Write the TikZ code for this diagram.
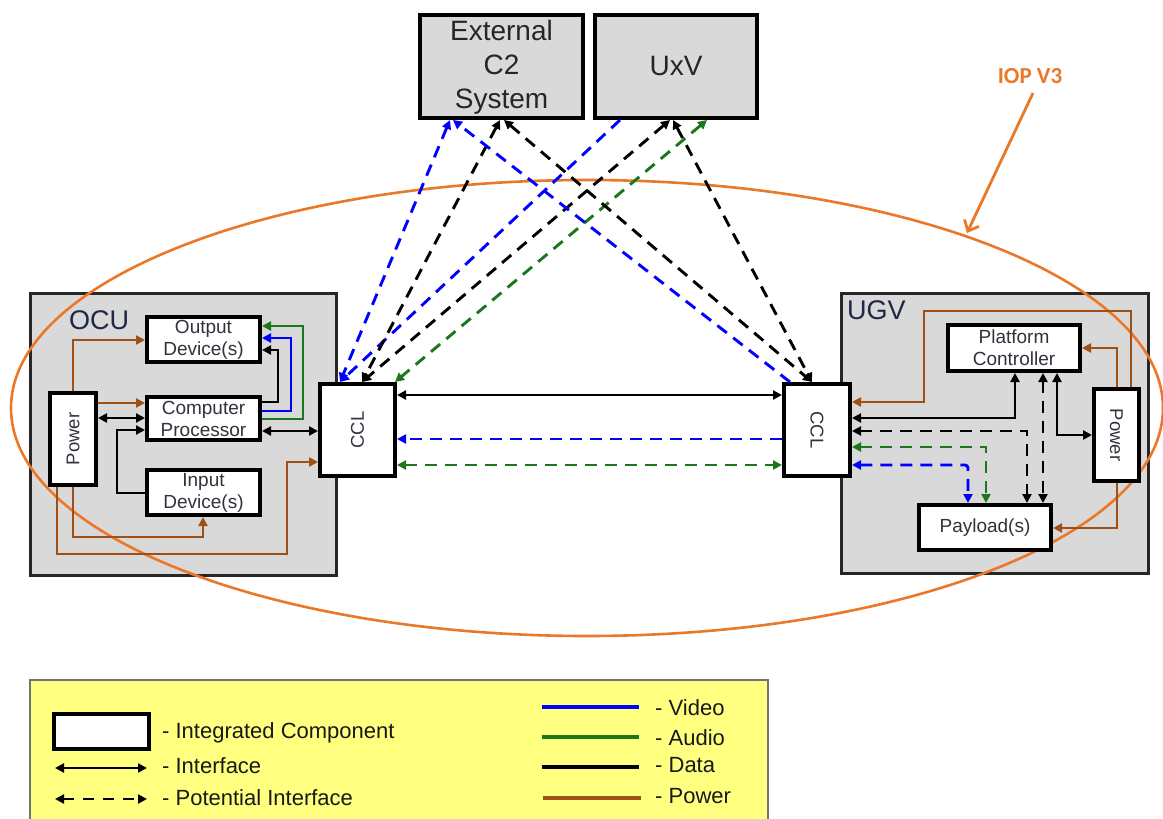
\documentclass[tikz,border=0pt]{standalone}
\usepackage{fontspec}
\setmainfont{Liberation Sans}
\newfontfamily\calib{Carlito}
\usetikzlibrary{arrows.meta}
\definecolor{vid}{RGB}{0,0,255}
\definecolor{aud}{RGB}{28,118,28}
\definecolor{pwrc}{RGB}{158,80,22}
\definecolor{iopc}{RGB}{235,120,40}
\definecolor{boxgray}{RGB}{217,217,217}
\definecolor{legy}{RGB}{255,255,128}
\definecolor{txt}{RGB}{50,50,62}
\definecolor{navy}{RGB}{30,40,70}
\begin{document}
\begin{tikzpicture}[x=1pt,y=-1pt,
  >={Triangle[length=9pt,width=9pt]},
  comp/.style={draw=black, line width=3.8pt, fill=white, text=txt, inner sep=0pt, align=center, font=\fontsize{19}{22}\selectfont},
  rcomp/.style={comp, font=\fontsize{18.5}{22}\selectfont},
  top/.style={draw=black, line width=3.8pt, fill=boxgray, text=black!85, inner sep=0pt, align=center, font=\fontsize{28}{34}\selectfont},
  grp/.style={draw=black!85, line width=3.2pt, fill=boxgray, inner sep=0pt},
  grplabel/.style={anchor=base west, inner sep=0pt, text=navy, font=\fontsize{27}{30}\selectfont},
  ln/.style={line width=2.9pt},
  dsh/.style={ln, dash pattern=on 12pt off 8pt},
  dat/.style={ln, black},
  vidl/.style={ln, vid},
  audl/.style={ln, aud},
  pw/.style={ln, pwrc},
  legtext/.style={anchor=base west, inner sep=0pt, text=black!90, font=\fontsize{22}{26}\selectfont},
  legline/.style={line width=4.5pt},
]
\useasboundingbox (0,0) rectangle (1163,819);

% group boxes
\node[grp, minimum width=305.8pt, minimum height=281.8pt] (ocu) at (183.5,434.5) {};
\node[grp, minimum width=306.8pt, minimum height=279.8pt] (ugv) at (995,433.5) {};
\node[grplabel] (ocul) at (69,329) {OCU};
\node[grplabel] (ugvl) at (847,319) {UGV};

% IOP ellipse
\draw[iopc, line width=2.6pt] (587,408) ellipse [x radius=576pt, y radius=228pt];

% top boxes
\node[top, minimum width=163.2pt, minimum height=103.2pt] (ext) at (501.5,66.5) {\rule{0pt}{21pt}External\\C2\\System};
\node[top, minimum width=162.2pt, minimum height=103.2pt] (uxv) at (676,66.5) {UxV};

% OCU components
\node[comp, minimum width=113.2pt, minimum height=45.2pt] (od) at (203.5,339.5) {Output\\Device(s)};
\node[comp, minimum width=113.2pt, minimum height=43.2pt] (cp) at (203.5,418.5) {Computer\\Processor};
\node[comp, minimum width=113.2pt, minimum height=45.2pt] (id) at (203.5,492.5) {Input\\Device(s)};
\node[rcomp, minimum width=46.2pt, minimum height=92.2pt] (pwl) at (73,439) {\rotatebox{90}{Power}};
\node[rcomp, minimum width=75.2pt, minimum height=92.2pt] (cclL) at (357.5,430) {\rotatebox{90}{CCL}};

% UGV components
\node[rcomp, minimum width=66.2pt, minimum height=92.2pt] (cclR) at (817,430) {\rotatebox{-90}{CCL}};
\node[comp, minimum width=132.2pt, minimum height=46.2pt] (pc) at (1014,348) {Platform\\Controller};
\node[rcomp, minimum width=45.2pt, minimum height=92.2pt] (pwr) at (1116.5,435) {\rotatebox{-90}{Power}};
\node[comp, minimum width=132.2pt, minimum height=45.2pt] (pay) at (985,527.5) {Payload(s)};

% OCU connections
\draw[pw,->] (pwl.north) |- (od.west |- 0,340);
\draw[pw,->] (pwl.east |- 0,403) -- (cp.west |- 0,403);
\draw[dat,<->] (pwl.east |- 0,418) -- (cp.west |- 0,418);
\draw[dat,->] (id.west |- 0,493) -- (117,493) |- (cp.west |- 0,430);
\draw[pw,->] (pwl.south) -- (73,537) -| (id.south -| 203,0);
\draw[pw,->] (pwl.south -| 57,0) -- (57,554) -| (287,462) -- (cclL.west |- 0,462);
\draw[dat,->] (cp.east |- 0,402) -| (278,350) -- (od.east |- 0,350);
\draw[vidl,->] (cp.east |- 0,411) -| (291,338) -- (od.east |- 0,338);
\draw[audl,->] (cp.east |- 0,419) -| (303,326) -- (od.east |- 0,326);
\draw[dat,<->] (cp.east |- 0,431) -- (cclL.west |- 0,431);

% UGV connections
\draw[pw,->] (pwr.north -| 1131,0) -- (1131,311) -| (924,402) -- (cclR.east |- 0,402);
\draw[pw,->] (pwr.north -| 1117,0) |- (pc.east |- 0,348);
\draw[dat,<->] (cclR.east |- 0,418) -| (pc.south -| 1015,0);
\draw[dat,<->] (pc.south -| 1057,0) |- (pwr.west |- 0,435);
\draw[dat,dsh,<->] (cclR.east |- 0,431) -| (pay.north -| 1027,0);
\draw[dat,dsh,<->] (pc.south -| 1043,0) -- (pay.north -| 1043,0);
\draw[audl,dsh,<->] (cclR.east |- 0,447) -| (pay.north -| 986,0);
\draw[vidl,dsh,<->,rounded corners=3pt] (cclR.east |- 0,465) -| (pay.north -| 968,0);
\draw[pw,->] (pwr.south -| 1117,0) |- (pay.east |- 0,528);

% CCL to CCL
\draw[dat,<->] (cclL.east |- 0,395) -- (cclR.west |- 0,395);
\draw[vidl,dsh,->] (cclR.west |- 0,439) -- (cclL.east |- 0,439);
\draw[audl,dsh,<->] (cclL.east |- 0,465) -- (cclR.west |- 0,465);

% to external systems
\draw[vidl,dsh,<->] (ext.south -| 450,0) -- (cclL.north -| 340,0);
\draw[vidl,dsh,->] (uxv.south -| 620,0) -- (cclL.north -| 340,0);
\draw[dat,dsh,<->] (ext.south -| 500,0) -- (cclL.north -| 362,0);
\draw[dat,dsh,<->] (uxv.south -| 670,0) -- (cclL.north -| 362,0);
\draw[audl,dsh,<->] (uxv.south -| 707,0) -- (cclL.north -| 395,0);
\draw[vidl,dsh,->] (cclR.north -| 790,0) -- (ext.south -| 453,0);
\draw[dat,dsh,<->] (ext.south -| 504,0) -- (cclR.north -| 812,0);
\draw[dat,dsh,<->] (uxv.south -| 673,0) -- (cclR.north -| 812,0);

% IOP label
\node[inner sep=0pt, text=iopc, font=\calib\bfseries\fontsize{23}{26}\selectfont] (iop) at (1030,76) {IOP V3};
\coordinate (iopt) at (967,233);
\draw[iopc, line width=2.8pt, -{Straight Barb[length=9pt,width=16pt]}] (1033,93) -- (iopt);

% legend
\node[draw=black!55, line width=1.5pt, fill=legy, minimum width=738pt, minimum height=160pt, inner sep=0pt] (leg) at (399,760) {};
\node[draw=black, line width=4.2pt, fill=white, minimum width=95pt, minimum height=35pt, inner sep=0pt] (lgc) at (101.5,731.5) {};
\node[legtext] (lt1) at (162,738) {- Integrated Component};
\node[legtext] (lt2) at (162,773) {- Interface};
\node[legtext] (lt3) at (162,805) {- Potential Interface};
\coordinate (la1) at (55,768); \coordinate (lb1) at (147,768);
\coordinate (la2) at (55,799); \coordinate (lb2) at (147,799);
\draw[dat,<->] (la1) -- (lb1);
\draw[dat,<->,dash pattern=on 11pt off 9pt] (la2) -- (lb2);
\coordinate (lva) at (542,707); \coordinate (lvb) at (639,707);
\coordinate (laa) at (542,737); \coordinate (lab) at (639,737);
\coordinate (lda) at (542,767); \coordinate (ldb) at (639,767);
\coordinate (lpa) at (543,798); \coordinate (lpb) at (641,798);
\draw[legline, vid] (lva) -- (lvb);
\draw[legline, aud] (laa) -- (lab);
\draw[legline, black] (lda) -- (ldb);
\draw[legline, pwrc] (lpa) -- (lpb);
\node[legtext] (lt4) at (655,715) {- Video};
\node[legtext] (lt5) at (655,745) {- Audio};
\node[legtext] (lt6) at (655,772) {- Data};
\node[legtext] (lt7) at (655,803) {- Power};
\end{tikzpicture}
\end{document}
